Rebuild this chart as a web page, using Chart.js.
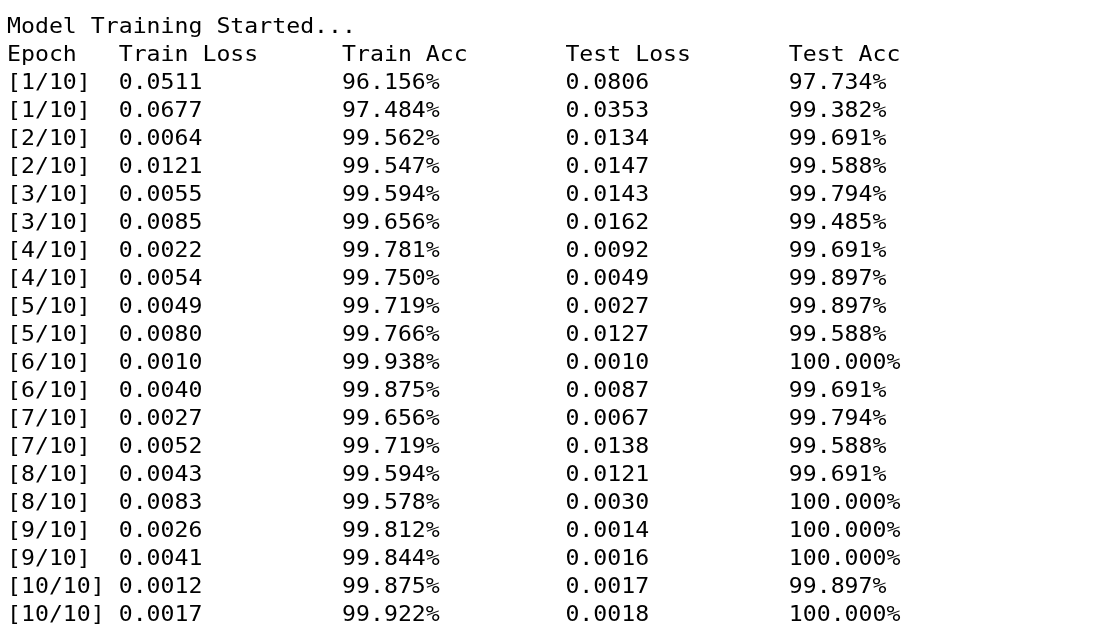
<!DOCTYPE html>
<html>
<head>
<meta charset="utf-8">
<script src="https://cdn.jsdelivr.net/npm/chart.js@4/dist/chart.umd.min.js"></script>
<style>
  html, body { margin: 0; padding: 0; background: #fff; }
  #wrap { width: 1096px; height: 630px; }
</style>
</head>
<body>
<div id="wrap"><canvas id="log" width="1096" height="630"></canvas></div>
<script>
// Training log printed as a fixed-width table.
const titleLine = 'Model Training Started...';
const headers = ['Epoch', 'Train Loss', 'Train Acc', 'Test Loss', 'Test Acc'];
const epochs = [1, 1, 2, 2, 3, 3, 4, 4, 5, 5, 6, 6, 7, 7, 8, 8, 9, 9, 10, 10];
const totalEpochs = 10;
const trainLoss = [0.0511, 0.0677, 0.0064, 0.0121, 0.0055, 0.0085, 0.0022, 0.0054, 0.0049, 0.0080,
                   0.0010, 0.0040, 0.0027, 0.0052, 0.0043, 0.0083, 0.0026, 0.0041, 0.0012, 0.0017];
const trainAcc = [96.156, 97.484, 99.562, 99.547, 99.594, 99.656, 99.781, 99.750, 99.719, 99.766,
                  99.938, 99.875, 99.656, 99.719, 99.594, 99.578, 99.812, 99.844, 99.875, 99.922];
const testLoss = [0.0806, 0.0353, 0.0134, 0.0147, 0.0143, 0.0162, 0.0092, 0.0049, 0.0027, 0.0127,
                  0.0010, 0.0087, 0.0067, 0.0138, 0.0121, 0.0030, 0.0014, 0.0016, 0.0017, 0.0018];
const testAcc = [97.734, 99.382, 99.691, 99.588, 99.794, 99.485, 99.691, 99.897, 99.897, 99.588,
                 100.000, 99.691, 99.794, 99.588, 99.691, 100.000, 100.000, 100.000, 99.897, 100.000];

// column start, in characters of the monospace grid
const COL_CHARS = [0, 8, 24, 40, 56];
const CHAR_W = 13.96;      // px per character in the reference
const LEFT = 7;            // px of the first character
const FIRST_BASE = 33;     // px of the first baseline
const LINE_H = 28;         // px between lines
const FONT = '22px "DejaVu Sans Mono", "Liberation Mono", monospace';

const columns = [
  epochs.map(e => `[${e}/${totalEpochs}]`),
  trainLoss.map(v => v.toFixed(4)),
  trainAcc.map(v => v.toFixed(3) + '%'),
  testLoss.map(v => v.toFixed(4)),
  testAcc.map(v => v.toFixed(3) + '%')
];

// line 0 = title, line 1 = header, lines 2.. = epochs
const datasets = [
  { label: 'title', text: [titleLine], data: [{ x: 0, y: 0 }] },
  { label: 'header', text: headers, data: headers.map((_, i) => ({ x: COL_CHARS[i], y: 1 })) }
];
columns.forEach((col, i) => {
  datasets.push({
    label: headers[i],
    text: col,
    data: col.map((_, r) => ({ x: COL_CHARS[i], y: r + 2 }))
  });
});
datasets.forEach(d => { d.pointRadius = 0; d.pointHoverRadius = 0; d.showLine = false; });

const textCells = {
  id: 'textCells',
  afterDatasetsDraw(chart) {
    const ctx = chart.ctx;
    ctx.save();
    ctx.font = FONT;
    const adv = ctx.measureText('0').width;
    const sx = CHAR_W / adv;
    ctx.fillStyle = '#000';
    ctx.textAlign = 'left';
    ctx.textBaseline = 'alphabetic';
    chart.data.datasets.forEach((ds, di) => {
      chart.getDatasetMeta(di).data.forEach((pt, i) => {
        ctx.save();
        ctx.translate(pt.x, pt.y);
        ctx.scale(sx, 1);
        ctx.fillText(ds.text[i], 0, 0);
        ctx.restore();
      });
    });
    ctx.restore();
  }
};

const W = 1096, H = 630;
new Chart(document.getElementById('log').getContext('2d'), {
  type: 'scatter',
  data: { datasets },
  options: {
    responsive: false,
    animation: false,
    events: [],
    layout: { padding: 0 },
    plugins: { legend: { display: false }, tooltip: { enabled: false } },
    scales: {
      x: { type: 'linear', display: false, min: -LEFT / CHAR_W, max: (W - LEFT) / CHAR_W },
      y: { type: 'linear', display: false, reverse: true,
           min: -FIRST_BASE / LINE_H, max: (H - FIRST_BASE) / LINE_H }
    }
  },
  plugins: [textCells]
});
</script>
</body>
</html>
